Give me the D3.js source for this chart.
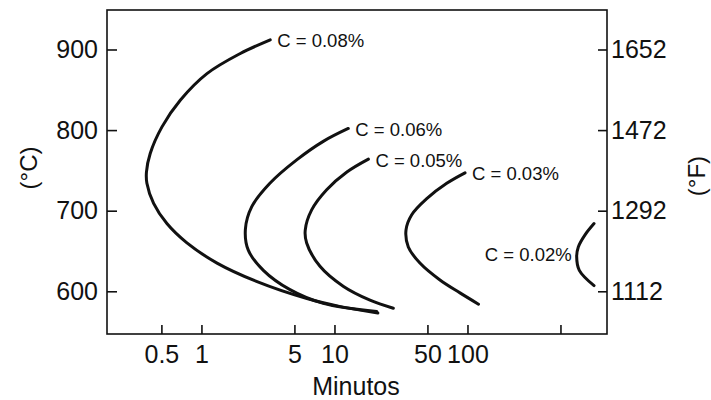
<!DOCTYPE html>
<html>
<head>
<meta charset="utf-8">
<script src="https://cdn.jsdelivr.net/npm/d3@7"></script>
<style>
  html, body { margin: 0; padding: 0; background: #fff; }
  svg { display: block; font-family: "Liberation Sans", Arial, Helvetica, sans-serif; }
</style>
</head>
<body>
<svg id="chart" width="711" height="400"></svg>
<script>
// ---- data ----
// time in minutes (log axis), temperature in °C
const seriesNames = ["C = 0.08%", "C = 0.06%", "C = 0.05%", "C = 0.03%", "C = 0.02%"];

const c008Time = [3.29, 1.96, 1.10, 0.693, 0.505, 0.412, 0.386, 0.389, 0.437, 0.550, 0.778, 1.31, 2.62, 6.21, 11.1, 21.2];
const c008Temp = [912, 895, 870, 837, 804, 771, 748, 734, 709, 684, 660, 635, 612, 591, 581, 573];

const c006Time = [12.7, 8.24, 5.20, 3.27, 2.39, 2.14, 2.25, 2.92, 4.63, 8.24, 20.8];
const c006Temp = [802, 786, 763, 734, 705, 677, 651, 626, 602, 585, 575];

const c005Time = [18.0, 12.4, 8.74, 6.74, 6.03, 6.18, 7.78, 11.7, 18.5, 27.7];
const c005Temp = [764, 748, 726, 701, 676, 660, 631, 606, 589, 579];

const c003Time = [95.8, 69.8, 49.4, 38.1, 34.5, 35.9, 43.9, 62.1, 87.8, 121];
const c003Temp = [747, 734, 715, 695, 676, 655, 635, 614, 598, 584];

const c002Time = [894, 765, 681, 662, 693, 894];
const c002Temp = [684, 670, 655, 643, 626, 607];

const xTicks = [0.5, 1, 5, 10, 50, 100, 500];
const xTickLabels = ["0.5", "1", "5", "10", "50", "100", ""];
const yTicksC = [600, 700, 800, 900];
const yTicksF = [1112, 1292, 1472, 1652];

const xTitle = "Minutos";
const yTitleLeft = "(°C)";
const yTitleRight = "(°F)";

// ---- layout ----
const svg = d3.select("#chart");
const plot = { left: 107, right: 607, top: 10, bottom: 334 };

const x = d3.scaleLog().domain([0.195, 1119]).range([plot.left, plot.right]);
const yC = d3.scaleLinear().domain([547, 949]).range([plot.bottom, plot.top]);
const yF = d3.scaleLinear().domain(yC.domain().map(c => c * 9 / 5 + 32)).range([plot.bottom, plot.top]);

const ink = "#111";
const tickFont = 25;

// frame
svg.append("rect")
  .attr("x", plot.left).attr("y", plot.top)
  .attr("width", plot.right - plot.left).attr("height", plot.bottom - plot.top)
  .attr("fill", "none").attr("stroke", ink).attr("stroke-width", 1.6);

// bottom axis (ticks inward)
const xAxis = d3.axisBottom(x).tickValues(xTicks)
  .tickSize(-9).tickPadding(11)
  .tickFormat((d, i) => xTickLabels[i]);
const gx = svg.append("g").attr("transform", `translate(0,${plot.bottom})`).call(xAxis);

// left axis
const yAxisL = d3.axisLeft(yC).tickValues(yTicksC).tickSize(-10).tickPadding(9).tickFormat(d3.format("d"));
const gyl = svg.append("g").attr("transform", `translate(${plot.left},0)`).call(yAxisL);

// right axis (°F)
const yAxisR = d3.axisRight(yF).tickValues(yTicksF).tickSize(-9).tickPadding(4).tickFormat(d3.format("d"));
const gyr = svg.append("g").attr("transform", `translate(${plot.right},0)`).call(yAxisR);

[gx, gyl, gyr].forEach(g => {
  g.select(".domain").remove();
  g.selectAll(".tick line").attr("stroke", ink).attr("stroke-width", 1.6);
  g.selectAll(".tick text").attr("fill", ink).attr("font-size", tickFont)
    .attr("font-family", "'Liberation Sans', Arial, Helvetica, sans-serif");
});
gx.selectAll(".tick text").attr("dy", "0.71em");

// axis titles
svg.append("text")
  .attr("x", 356).attr("y", 395)
  .attr("text-anchor", "middle")
  .attr("font-size", tickFont).attr("fill", ink)
  .text(xTitle);

svg.append("text")
  .attr("transform", "translate(28,168) rotate(-90)")
  .attr("text-anchor", "middle").attr("dominant-baseline", "central")
  .attr("font-size", 24).attr("fill", ink)
  .text(yTitleLeft);

svg.append("text")
  .attr("transform", "translate(696,176) rotate(-90)")
  .attr("text-anchor", "middle").attr("dominant-baseline", "central")
  .attr("font-size", 24).attr("fill", ink)
  .text(yTitleRight);

// curves
const curves = [
  { name: seriesNames[0], t: c008Time, c: c008Temp, labelAt: "start" },
  { name: seriesNames[1], t: c006Time, c: c006Temp, labelAt: "start" },
  { name: seriesNames[2], t: c005Time, c: c005Temp, labelAt: "start" },
  { name: seriesNames[3], t: c003Time, c: c003Temp, labelAt: "start" },
  { name: seriesNames[4], t: c002Time, c: c002Temp, labelAt: "nose" }
];

const line = d3.line()
  .x(d => x(d[0])).y(d => yC(d[1]))
  .curve(d3.curveCatmullRom.alpha(0.5));

curves.forEach(cv => {
  const pts = cv.t.map((t, i) => [t, cv.c[i]]);
  svg.append("path")
    .datum(pts)
    .attr("d", line)
    .attr("fill", "none")
    .attr("stroke", ink)
    .attr("stroke-width", 3)
    .attr("stroke-linecap", "round");

  let lx, ly, anchor;
  if (cv.labelAt === "start") {
    lx = x(pts[0][0]) + 7;
    ly = yC(pts[0][1]) + 1;
    anchor = "start";
  } else {
    const nose = pts.reduce((a, b) => (b[0] < a[0] ? b : a));
    lx = x(nose[0]) - 5;
    ly = yC(nose[1]) - 2;
    anchor = "end";
  }
  svg.append("text")
    .attr("x", lx).attr("y", ly)
    .attr("text-anchor", anchor).attr("dominant-baseline", "central")
    .attr("font-size", 18.5).attr("fill", ink)
    .text(cv.name);
});
</script>
</body>
</html>
